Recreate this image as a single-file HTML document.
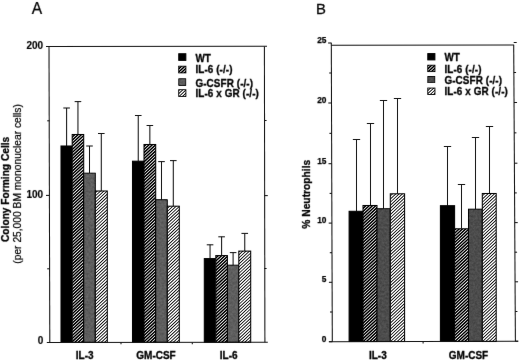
<!DOCTYPE html>
<html><head><meta charset="utf-8"><title>Figure</title>
<style>
html,body{margin:0;padding:0;background:#fff;}
body{width:520px;height:360px;overflow:hidden;}
svg{display:block;font-family:"Liberation Sans",sans-serif;}
</style></head><body>
<svg width="520" height="360" viewBox="0 0 520 360">
<defs><filter id="noise" x="-10%" y="-2%" width="120%" height="104%" color-interpolation-filters="sRGB"><feTurbulence type="fractalNoise" baseFrequency="0.45" numOctaves="2" seed="7" result="t"/><feColorMatrix in="t" type="matrix" values="1 0 0 0 0 1 0 0 0 0 1 0 0 0 0 0 0 0 0 1" result="g"/><feComposite in="SourceGraphic" in2="g" operator="arithmetic" k1="0" k2="1" k3="0.16" k4="-0.08" result="m"/><feComposite in="m" in2="SourceGraphic" operator="in"/></filter><filter id="soft" x="0" y="0" width="520" height="360" filterUnits="userSpaceOnUse" color-interpolation-filters="sRGB"><feConvolveMatrix order="3" kernelMatrix="0.0052 0.0619 0.0052 0.0619 0.7314 0.0619 0.0052 0.0619 0.0052" edgeMode="duplicate" preserveAlpha="false"/></filter><filter id="softl" x="0" y="0" width="520" height="360" filterUnits="userSpaceOnUse" color-interpolation-filters="sRGB"><feConvolveMatrix order="3" kernelMatrix="0.0009 0.0278 0.0009 0.0278 0.8855 0.0278 0.0009 0.0278 0.0009" edgeMode="duplicate" preserveAlpha="true"/></filter></defs>
<g filter="url(#softl)">
<rect width="520" height="360" fill="#fff"/>
<g stroke="#111" stroke-width="1.05" fill="none"><line x1="66.60" y1="108.00" x2="66.60" y2="146.00"/><line x1="63.30" y1="108.00" x2="69.90" y2="108.00"/><line x1="77.95" y1="101.60" x2="77.95" y2="134.50"/><line x1="74.65" y1="101.60" x2="81.25" y2="101.60"/><line x1="89.50" y1="146.00" x2="89.50" y2="173.00"/><line x1="86.20" y1="146.00" x2="92.80" y2="146.00"/><line x1="101.30" y1="133.50" x2="101.30" y2="191.00"/><line x1="98.00" y1="133.50" x2="104.60" y2="133.50"/><line x1="138.25" y1="115.50" x2="138.25" y2="161.20"/><line x1="134.95" y1="115.50" x2="141.55" y2="115.50"/><line x1="149.85" y1="125.50" x2="149.85" y2="144.50"/><line x1="146.55" y1="125.50" x2="153.15" y2="125.50"/><line x1="161.50" y1="161.60" x2="161.50" y2="199.70"/><line x1="158.20" y1="161.60" x2="164.80" y2="161.60"/><line x1="173.30" y1="160.60" x2="173.30" y2="206.20"/><line x1="170.00" y1="160.60" x2="176.60" y2="160.60"/><line x1="210.05" y1="244.80" x2="210.05" y2="258.60"/><line x1="206.75" y1="244.80" x2="213.35" y2="244.80"/><line x1="221.60" y1="236.80" x2="221.60" y2="255.60"/><line x1="218.30" y1="236.80" x2="224.90" y2="236.80"/><line x1="233.10" y1="252.60" x2="233.10" y2="265.00"/><line x1="229.80" y1="252.60" x2="236.40" y2="252.60"/><line x1="244.75" y1="233.40" x2="244.75" y2="251.10"/><line x1="241.45" y1="233.40" x2="248.05" y2="233.40"/><line x1="356.50" y1="139.50" x2="356.50" y2="211.30"/><line x1="352.85" y1="139.50" x2="360.15" y2="139.50"/><line x1="370.50" y1="123.50" x2="370.50" y2="205.50"/><line x1="366.85" y1="123.50" x2="374.15" y2="123.50"/><line x1="383.50" y1="100.50" x2="383.50" y2="208.70"/><line x1="379.85" y1="100.50" x2="387.15" y2="100.50"/><line x1="397.50" y1="98.50" x2="397.50" y2="193.80"/><line x1="393.85" y1="98.50" x2="401.15" y2="98.50"/><line x1="447.50" y1="146.50" x2="447.50" y2="205.70"/><line x1="443.85" y1="146.50" x2="451.15" y2="146.50"/><line x1="461.50" y1="184.50" x2="461.50" y2="228.80"/><line x1="457.85" y1="184.50" x2="465.15" y2="184.50"/><line x1="475.50" y1="137.50" x2="475.50" y2="209.00"/><line x1="471.85" y1="137.50" x2="479.15" y2="137.50"/><line x1="489.50" y1="126.50" x2="489.50" y2="193.50"/><line x1="485.85" y1="126.50" x2="493.15" y2="126.50"/></g>
<rect x="61.00" y="146.00" width="11.20" height="196.30" fill="#000" stroke="#000" stroke-width="1.05"/><rect x="72.20" y="134.50" width="11.50" height="207.80" fill="#fff" stroke="#000" stroke-width="1.05"/><rect x="83.70" y="173.00" width="11.60" height="169.30" fill="#5e5e5e" stroke="#000" stroke-width="1.05" filter="url(#noise)"/><rect x="95.30" y="191.00" width="12.00" height="151.30" fill="#fff" stroke="#000" stroke-width="1.05"/><rect x="132.50" y="161.20" width="11.50" height="181.10" fill="#000" stroke="#000" stroke-width="1.05"/><rect x="144.00" y="144.50" width="11.70" height="197.80" fill="#fff" stroke="#000" stroke-width="1.05"/><rect x="155.70" y="199.70" width="11.60" height="142.60" fill="#5e5e5e" stroke="#000" stroke-width="1.05" filter="url(#noise)"/><rect x="167.30" y="206.20" width="12.00" height="136.10" fill="#fff" stroke="#000" stroke-width="1.05"/><rect x="204.30" y="258.60" width="11.50" height="83.70" fill="#000" stroke="#000" stroke-width="1.05"/><rect x="215.80" y="255.60" width="11.60" height="86.70" fill="#fff" stroke="#000" stroke-width="1.05"/><rect x="227.40" y="265.00" width="11.40" height="77.30" fill="#5e5e5e" stroke="#000" stroke-width="1.05" filter="url(#noise)"/><rect x="238.80" y="251.10" width="11.90" height="91.20" fill="#fff" stroke="#000" stroke-width="1.05"/><rect x="349.10" y="211.30" width="13.90" height="130.20" fill="#000" stroke="#000" stroke-width="1.05"/><rect x="363.00" y="205.50" width="14.00" height="136.00" fill="#fff" stroke="#000" stroke-width="1.05"/><rect x="377.00" y="208.70" width="13.30" height="132.80" fill="#4c4c4c" stroke="#000" stroke-width="1.05" filter="url(#noise)"/><rect x="390.30" y="193.80" width="14.30" height="147.70" fill="#fff" stroke="#000" stroke-width="1.05"/><rect x="440.40" y="205.70" width="14.20" height="135.80" fill="#000" stroke="#000" stroke-width="1.05"/><rect x="454.60" y="228.80" width="13.90" height="112.70" fill="#fff" stroke="#000" stroke-width="1.05"/><rect x="468.50" y="209.00" width="13.80" height="132.50" fill="#4c4c4c" stroke="#000" stroke-width="1.05" filter="url(#noise)"/><rect x="482.30" y="193.50" width="13.90" height="148.00" fill="#fff" stroke="#000" stroke-width="1.05"/>
<g stroke="#111" stroke-width="1.05" fill="none"><line x1="49.00" y1="46.50" x2="49.80" y2="342.50"/><line x1="46.00" y1="46.50" x2="267.00" y2="46.30"/><line x1="264.40" y1="46.40" x2="264.90" y2="342.30"/><line x1="46.80" y1="342.50" x2="267.80" y2="342.20"/><line x1="46.00" y1="195.40" x2="49.40" y2="195.40"/><line x1="264.30" y1="195.60" x2="267.80" y2="195.60"/><line x1="47.20" y1="120.80" x2="49.40" y2="120.80"/><line x1="264.30" y1="120.50" x2="266.60" y2="120.50"/><line x1="47.20" y1="268.80" x2="49.40" y2="268.80"/><line x1="264.30" y1="268.50" x2="266.60" y2="268.50"/><line x1="121.00" y1="342.40" x2="121.00" y2="344.30"/><line x1="192.30" y1="342.40" x2="192.30" y2="344.30"/><line x1="423.10" y1="341.50" x2="423.10" y2="343.60"/><line x1="331.30" y1="42.80" x2="332.30" y2="341.70"/><line x1="331.30" y1="45.30" x2="513.80" y2="45.00"/><line x1="513.70" y1="44.80" x2="515.40" y2="341.30"/><line x1="328.80" y1="341.70" x2="518.00" y2="341.20"/><line x1="329.10" y1="341.70" x2="332.30" y2="341.70"/><line x1="515.40" y1="341.20" x2="518.40" y2="341.20"/><line x1="330.00" y1="312.00" x2="332.20" y2="312.00"/><line x1="515.23" y1="311.50" x2="517.43" y2="311.50"/><line x1="328.90" y1="282.30" x2="332.10" y2="282.30"/><line x1="515.06" y1="281.80" x2="518.06" y2="281.80"/><line x1="329.80" y1="252.70" x2="332.00" y2="252.70"/><line x1="514.89" y1="252.20" x2="517.09" y2="252.20"/><line x1="328.70" y1="223.10" x2="331.90" y2="223.10"/><line x1="514.73" y1="222.60" x2="517.73" y2="222.60"/><line x1="329.60" y1="193.40" x2="331.80" y2="193.40"/><line x1="514.56" y1="192.90" x2="516.76" y2="192.90"/><line x1="328.50" y1="163.70" x2="331.70" y2="163.70"/><line x1="514.39" y1="163.20" x2="517.39" y2="163.20"/><line x1="329.40" y1="133.35" x2="331.60" y2="133.35"/><line x1="514.21" y1="132.85" x2="516.41" y2="132.85"/><line x1="328.30" y1="103.00" x2="331.50" y2="103.00"/><line x1="514.04" y1="102.50" x2="517.04" y2="102.50"/><line x1="329.20" y1="73.00" x2="331.40" y2="73.00"/><line x1="513.87" y1="72.50" x2="516.07" y2="72.50"/><line x1="328.10" y1="43.00" x2="331.30" y2="43.00"/><line x1="513.70" y1="42.50" x2="516.70" y2="42.50"/></g>
<rect x="178.70" y="53.70" width="7.20" height="6.70" fill="#000" stroke="#000" stroke-width="0.9"/><rect x="178.70" y="66.20" width="7.20" height="6.70" fill="#fff" stroke="#000" stroke-width="0.9"/><rect x="178.70" y="78.70" width="7.20" height="6.70" fill="#5e5e5e" stroke="#000" stroke-width="0.9" filter="url(#noise)"/><rect x="178.70" y="89.70" width="7.20" height="6.70" fill="#fff" stroke="#000" stroke-width="0.9"/><rect x="427.75" y="53.55" width="7.20" height="6.40" fill="#000" stroke="#000" stroke-width="0.9"/><rect x="427.75" y="65.20" width="7.20" height="6.40" fill="#fff" stroke="#000" stroke-width="0.9"/><rect x="427.75" y="76.45" width="7.20" height="6.40" fill="#4c4c4c" stroke="#000" stroke-width="0.9" filter="url(#noise)"/><rect x="427.75" y="88.05" width="7.20" height="6.40" fill="#fff" stroke="#000" stroke-width="0.9"/>
</g>
<g filter="url(#soft)">
<g fill="#000" stroke="#000" stroke-width="0.3"><text transform="translate(31.8,14) scale(0.94,1)" font-size="16.6" stroke-width="0.25">A</text><text transform="translate(316.1,13.8) scale(0.96,1)" font-size="15.5" stroke-width="0.25">B</text><text x="43.2" y="48.8" font-size="10" font-weight="bold" stroke-width="0.15" text-anchor="end">200</text><text x="43.2" y="197.5" font-size="10" font-weight="bold" stroke-width="0.15" text-anchor="end">100</text><text x="43.2" y="344.4" font-size="10" font-weight="bold" stroke-width="0.15" text-anchor="end">0</text><text x="326.4" y="341.60" font-size="8.3" font-weight="bold" stroke-width="0.25" text-anchor="end">0</text><text x="326.4" y="282.20" font-size="8.3" font-weight="bold" stroke-width="0.25" text-anchor="end">5</text><text x="326.4" y="223.00" font-size="8.3" font-weight="bold" stroke-width="0.25" text-anchor="end">10</text><text x="326.4" y="163.60" font-size="8.3" font-weight="bold" stroke-width="0.25" text-anchor="end">15</text><text x="326.4" y="102.90" font-size="8.3" font-weight="bold" stroke-width="0.25" text-anchor="end">20</text><text x="326.4" y="42.90" font-size="8.3" font-weight="bold" stroke-width="0.25" text-anchor="end">25</text><text transform="translate(84.7,358.85) scale(1,1.05)" font-size="10" font-weight="bold" text-anchor="middle">IL-3</text><text transform="translate(156,358.85) scale(1,1.05)" font-size="10" font-weight="bold" text-anchor="middle">GM-CSF</text><text transform="translate(228.7,358.85) scale(1,1.05)" font-size="10" font-weight="bold" text-anchor="middle">IL-6</text><text transform="translate(377.8,358.85) scale(1,1.05)" font-size="10" font-weight="bold" text-anchor="middle">IL-3</text><text transform="translate(468.5,358.85) scale(1,1.05)" font-size="10" font-weight="bold" text-anchor="middle">GM-CSF</text><text transform="translate(8.8,242) rotate(-90)" font-size="10.2" font-weight="bold">Colony Forming Cells</text><text transform="translate(21.4,263.7) rotate(-90)" font-size="10.25" stroke-width="0.2">(per 25,000 BM mononuclear cells)</text><text transform="translate(309.8,228.7) rotate(-90)" font-size="10.25" font-weight="bold">% Neutrophils</text><text transform="translate(195.4,61.65) scale(1,1.13)" font-size="9.9" letter-spacing="0.1" font-weight="bold">WT</text><text transform="translate(195.4,73.45) scale(1,1.13)" font-size="9.9" letter-spacing="0.1" font-weight="bold">IL-6 (-/-)</text><text transform="translate(195.4,86.65) scale(1,1.13)" font-size="9.9" letter-spacing="0.1" font-weight="bold">G-CSFR (-/-)</text><text transform="translate(195.4,97.45) scale(1,1.13)" font-size="9.9" letter-spacing="0.1" font-weight="bold">IL-6 x GR (-/-)</text><text transform="translate(444.4,61.15) scale(1,1.13)" font-size="9.9" letter-spacing="0.1" font-weight="bold">WT</text><text transform="translate(444.4,72.65) scale(1,1.13)" font-size="9.9" letter-spacing="0.1" font-weight="bold">IL-6 (-/-)</text><text transform="translate(444.4,84.25) scale(1,1.13)" font-size="9.9" letter-spacing="0.1" font-weight="bold">G-CSFR (-/-)</text><text transform="translate(444.4,95.45) scale(1,1.13)" font-size="9.9" letter-spacing="0.1" font-weight="bold">IL-6 x GR (-/-)</text></g>
</g>
<g fill="#000" stroke="none">
<clipPath id="c1"><rect x="72.20" y="134.50" width="11.50" height="207.80"/></clipPath><path clip-path="url(#c1)" d="M71.70 135.50L84.20 123.76V121.70L71.70 133.44ZM71.70 138.60L84.20 126.86V124.80L71.70 136.54ZM71.70 141.70L84.20 129.96V127.90L71.70 139.64ZM71.70 144.80L84.20 133.06V131.00L71.70 142.74ZM71.70 147.90L84.20 136.16V134.10L71.70 145.84ZM71.70 151.00L84.20 139.26V137.20L71.70 148.94ZM71.70 154.10L84.20 142.36V140.30L71.70 152.04ZM71.70 157.20L84.20 145.46V143.40L71.70 155.14ZM71.70 160.30L84.20 148.56V146.50L71.70 158.24ZM71.70 163.40L84.20 151.66V149.60L71.70 161.34ZM71.70 166.50L84.20 154.76V152.70L71.70 164.44ZM71.70 169.60L84.20 157.86V155.80L71.70 167.54ZM71.70 172.70L84.20 160.96V158.90L71.70 170.64ZM71.70 175.80L84.20 164.06V162.00L71.70 173.74ZM71.70 178.90L84.20 167.16V165.10L71.70 176.84ZM71.70 182.00L84.20 170.26V168.20L71.70 179.94ZM71.70 185.10L84.20 173.36V171.30L71.70 183.04ZM71.70 188.20L84.20 176.46V174.40L71.70 186.14ZM71.70 191.30L84.20 179.56V177.50L71.70 189.24ZM71.70 194.40L84.20 182.66V180.60L71.70 192.34ZM71.70 197.50L84.20 185.76V183.70L71.70 195.44ZM71.70 200.60L84.20 188.86V186.80L71.70 198.54ZM71.70 203.70L84.20 191.96V189.90L71.70 201.64ZM71.70 206.80L84.20 195.06V193.00L71.70 204.74ZM71.70 209.90L84.20 198.16V196.10L71.70 207.84ZM71.70 213.00L84.20 201.26V199.20L71.70 210.94ZM71.70 216.10L84.20 204.36V202.30L71.70 214.04ZM71.70 219.20L84.20 207.46V205.40L71.70 217.14ZM71.70 222.30L84.20 210.56V208.50L71.70 220.24ZM71.70 225.40L84.20 213.66V211.60L71.70 223.34ZM71.70 228.50L84.20 216.76V214.70L71.70 226.44ZM71.70 231.60L84.20 219.86V217.80L71.70 229.54ZM71.70 234.70L84.20 222.96V220.90L71.70 232.64ZM71.70 237.80L84.20 226.06V224.00L71.70 235.74ZM71.70 240.90L84.20 229.16V227.10L71.70 238.84ZM71.70 244.00L84.20 232.26V230.20L71.70 241.94ZM71.70 247.10L84.20 235.36V233.30L71.70 245.04ZM71.70 250.20L84.20 238.46V236.40L71.70 248.14ZM71.70 253.30L84.20 241.56V239.50L71.70 251.24ZM71.70 256.40L84.20 244.66V242.60L71.70 254.34ZM71.70 259.50L84.20 247.76V245.70L71.70 257.44ZM71.70 262.60L84.20 250.86V248.80L71.70 260.54ZM71.70 265.70L84.20 253.96V251.90L71.70 263.64ZM71.70 268.80L84.20 257.06V255.00L71.70 266.74ZM71.70 271.90L84.20 260.16V258.10L71.70 269.84ZM71.70 275.00L84.20 263.26V261.20L71.70 272.94ZM71.70 278.10L84.20 266.36V264.30L71.70 276.04ZM71.70 281.20L84.20 269.46V267.40L71.70 279.14ZM71.70 284.30L84.20 272.56V270.50L71.70 282.24ZM71.70 287.40L84.20 275.66V273.60L71.70 285.34ZM71.70 290.50L84.20 278.76V276.70L71.70 288.44ZM71.70 293.60L84.20 281.86V279.80L71.70 291.54ZM71.70 296.70L84.20 284.96V282.90L71.70 294.64ZM71.70 299.80L84.20 288.06V286.00L71.70 297.74ZM71.70 302.90L84.20 291.16V289.10L71.70 300.84ZM71.70 306.00L84.20 294.26V292.20L71.70 303.94ZM71.70 309.10L84.20 297.36V295.30L71.70 307.04ZM71.70 312.20L84.20 300.46V298.40L71.70 310.14ZM71.70 315.30L84.20 303.56V301.50L71.70 313.24ZM71.70 318.40L84.20 306.66V304.60L71.70 316.34ZM71.70 321.50L84.20 309.76V307.70L71.70 319.44ZM71.70 324.60L84.20 312.86V310.80L71.70 322.54ZM71.70 327.70L84.20 315.96V313.90L71.70 325.64ZM71.70 330.80L84.20 319.06V317.00L71.70 328.74ZM71.70 333.90L84.20 322.16V320.10L71.70 331.84ZM71.70 337.00L84.20 325.26V323.20L71.70 334.94ZM71.70 340.10L84.20 328.36V326.30L71.70 338.04ZM71.70 343.20L84.20 331.46V329.40L71.70 341.14ZM71.70 346.30L84.20 334.56V332.50L71.70 344.24ZM71.70 349.40L84.20 337.66V335.60L71.70 347.34ZM71.70 352.50L84.20 340.76V338.70L71.70 350.44ZM71.70 355.60L84.20 343.86V341.80L71.70 353.54Z"/>
<clipPath id="c2"><rect x="95.30" y="191.00" width="12.00" height="151.30"/></clipPath><path clip-path="url(#c2)" d="M94.80 190.85L107.80 178.64V177.47L94.80 189.69ZM94.80 193.95L107.80 181.74V180.57L94.80 192.79ZM94.80 197.05L107.80 184.84V183.67L94.80 195.89ZM94.80 200.15L107.80 187.94V186.77L94.80 198.99ZM94.80 203.25L107.80 191.04V189.87L94.80 202.09ZM94.80 206.35L107.80 194.14V192.97L94.80 205.19ZM94.80 209.45L107.80 197.24V196.07L94.80 208.29ZM94.80 212.55L107.80 200.34V199.17L94.80 211.39ZM94.80 215.65L107.80 203.44V202.27L94.80 214.49ZM94.80 218.75L107.80 206.54V205.37L94.80 217.59ZM94.80 221.85L107.80 209.64V208.47L94.80 220.69ZM94.80 224.95L107.80 212.74V211.57L94.80 223.79ZM94.80 228.05L107.80 215.84V214.67L94.80 226.89ZM94.80 231.15L107.80 218.94V217.77L94.80 229.99ZM94.80 234.25L107.80 222.04V220.87L94.80 233.09ZM94.80 237.35L107.80 225.14V223.97L94.80 236.19ZM94.80 240.45L107.80 228.24V227.07L94.80 239.29ZM94.80 243.55L107.80 231.34V230.17L94.80 242.39ZM94.80 246.65L107.80 234.44V233.27L94.80 245.49ZM94.80 249.75L107.80 237.54V236.37L94.80 248.59ZM94.80 252.85L107.80 240.64V239.47L94.80 251.69ZM94.80 255.95L107.80 243.74V242.57L94.80 254.79ZM94.80 259.05L107.80 246.84V245.67L94.80 257.89ZM94.80 262.15L107.80 249.94V248.77L94.80 260.99ZM94.80 265.25L107.80 253.04V251.87L94.80 264.09ZM94.80 268.35L107.80 256.14V254.97L94.80 267.19ZM94.80 271.45L107.80 259.24V258.07L94.80 270.29ZM94.80 274.55L107.80 262.34V261.17L94.80 273.39ZM94.80 277.65L107.80 265.44V264.27L94.80 276.49ZM94.80 280.75L107.80 268.54V267.37L94.80 279.59ZM94.80 283.85L107.80 271.64V270.47L94.80 282.69ZM94.80 286.95L107.80 274.74V273.57L94.80 285.79ZM94.80 290.05L107.80 277.84V276.67L94.80 288.89ZM94.80 293.15L107.80 280.94V279.77L94.80 291.99ZM94.80 296.25L107.80 284.04V282.87L94.80 295.09ZM94.80 299.35L107.80 287.14V285.97L94.80 298.19ZM94.80 302.45L107.80 290.24V289.07L94.80 301.29ZM94.80 305.55L107.80 293.34V292.17L94.80 304.39ZM94.80 308.65L107.80 296.44V295.27L94.80 307.49ZM94.80 311.75L107.80 299.54V298.37L94.80 310.59ZM94.80 314.85L107.80 302.64V301.47L94.80 313.69ZM94.80 317.95L107.80 305.74V304.57L94.80 316.79ZM94.80 321.05L107.80 308.84V307.67L94.80 319.89ZM94.80 324.15L107.80 311.94V310.77L94.80 322.99ZM94.80 327.25L107.80 315.04V313.87L94.80 326.09ZM94.80 330.35L107.80 318.14V316.97L94.80 329.19ZM94.80 333.45L107.80 321.24V320.07L94.80 332.29ZM94.80 336.55L107.80 324.34V323.17L94.80 335.39ZM94.80 339.65L107.80 327.44V326.27L94.80 338.49ZM94.80 342.75L107.80 330.54V329.37L94.80 341.59ZM94.80 345.85L107.80 333.64V332.47L94.80 344.69ZM94.80 348.95L107.80 336.74V335.57L94.80 347.79ZM94.80 352.05L107.80 339.84V338.67L94.80 350.89ZM94.80 355.15L107.80 342.94V341.77L94.80 353.99Z"/>
<clipPath id="c3"><rect x="144.00" y="144.50" width="11.70" height="197.80"/></clipPath><path clip-path="url(#c3)" d="M143.50 144.80L156.20 132.87V130.81L143.50 142.74ZM143.50 147.90L156.20 135.97V133.91L143.50 145.84ZM143.50 151.00L156.20 139.07V137.01L143.50 148.94ZM143.50 154.10L156.20 142.17V140.11L143.50 152.04ZM143.50 157.20L156.20 145.27V143.21L143.50 155.14ZM143.50 160.30L156.20 148.37V146.31L143.50 158.24ZM143.50 163.40L156.20 151.47V149.41L143.50 161.34ZM143.50 166.50L156.20 154.57V152.51L143.50 164.44ZM143.50 169.60L156.20 157.67V155.61L143.50 167.54ZM143.50 172.70L156.20 160.77V158.71L143.50 170.64ZM143.50 175.80L156.20 163.87V161.81L143.50 173.74ZM143.50 178.90L156.20 166.97V164.91L143.50 176.84ZM143.50 182.00L156.20 170.07V168.01L143.50 179.94ZM143.50 185.10L156.20 173.17V171.11L143.50 183.04ZM143.50 188.20L156.20 176.27V174.21L143.50 186.14ZM143.50 191.30L156.20 179.37V177.31L143.50 189.24ZM143.50 194.40L156.20 182.47V180.41L143.50 192.34ZM143.50 197.50L156.20 185.57V183.51L143.50 195.44ZM143.50 200.60L156.20 188.67V186.61L143.50 198.54ZM143.50 203.70L156.20 191.77V189.71L143.50 201.64ZM143.50 206.80L156.20 194.87V192.81L143.50 204.74ZM143.50 209.90L156.20 197.97V195.91L143.50 207.84ZM143.50 213.00L156.20 201.07V199.01L143.50 210.94ZM143.50 216.10L156.20 204.17V202.11L143.50 214.04ZM143.50 219.20L156.20 207.27V205.21L143.50 217.14ZM143.50 222.30L156.20 210.37V208.31L143.50 220.24ZM143.50 225.40L156.20 213.47V211.41L143.50 223.34ZM143.50 228.50L156.20 216.57V214.51L143.50 226.44ZM143.50 231.60L156.20 219.67V217.61L143.50 229.54ZM143.50 234.70L156.20 222.77V220.71L143.50 232.64ZM143.50 237.80L156.20 225.87V223.81L143.50 235.74ZM143.50 240.90L156.20 228.97V226.91L143.50 238.84ZM143.50 244.00L156.20 232.07V230.01L143.50 241.94ZM143.50 247.10L156.20 235.17V233.11L143.50 245.04ZM143.50 250.20L156.20 238.27V236.21L143.50 248.14ZM143.50 253.30L156.20 241.37V239.31L143.50 251.24ZM143.50 256.40L156.20 244.47V242.41L143.50 254.34ZM143.50 259.50L156.20 247.57V245.51L143.50 257.44ZM143.50 262.60L156.20 250.67V248.61L143.50 260.54ZM143.50 265.70L156.20 253.77V251.71L143.50 263.64ZM143.50 268.80L156.20 256.87V254.81L143.50 266.74ZM143.50 271.90L156.20 259.97V257.91L143.50 269.84ZM143.50 275.00L156.20 263.07V261.01L143.50 272.94ZM143.50 278.10L156.20 266.17V264.11L143.50 276.04ZM143.50 281.20L156.20 269.27V267.21L143.50 279.14ZM143.50 284.30L156.20 272.37V270.31L143.50 282.24ZM143.50 287.40L156.20 275.47V273.41L143.50 285.34ZM143.50 290.50L156.20 278.57V276.51L143.50 288.44ZM143.50 293.60L156.20 281.67V279.61L143.50 291.54ZM143.50 296.70L156.20 284.77V282.71L143.50 294.64ZM143.50 299.80L156.20 287.87V285.81L143.50 297.74ZM143.50 302.90L156.20 290.97V288.91L143.50 300.84ZM143.50 306.00L156.20 294.07V292.01L143.50 303.94ZM143.50 309.10L156.20 297.17V295.11L143.50 307.04ZM143.50 312.20L156.20 300.27V298.21L143.50 310.14ZM143.50 315.30L156.20 303.37V301.31L143.50 313.24ZM143.50 318.40L156.20 306.47V304.41L143.50 316.34ZM143.50 321.50L156.20 309.57V307.51L143.50 319.44ZM143.50 324.60L156.20 312.67V310.61L143.50 322.54ZM143.50 327.70L156.20 315.77V313.71L143.50 325.64ZM143.50 330.80L156.20 318.87V316.81L143.50 328.74ZM143.50 333.90L156.20 321.97V319.91L143.50 331.84ZM143.50 337.00L156.20 325.07V323.01L143.50 334.94ZM143.50 340.10L156.20 328.17V326.11L143.50 338.04ZM143.50 343.20L156.20 331.27V329.21L143.50 341.14ZM143.50 346.30L156.20 334.37V332.31L143.50 344.24ZM143.50 349.40L156.20 337.47V335.41L143.50 347.34ZM143.50 352.50L156.20 340.57V338.51L143.50 350.44ZM143.50 355.60L156.20 343.67V341.61L143.50 353.54Z"/>
<clipPath id="c4"><rect x="167.30" y="206.20" width="12.00" height="136.10"/></clipPath><path clip-path="url(#c4)" d="M166.80 206.35L179.80 194.14V192.97L166.80 205.19ZM166.80 209.45L179.80 197.24V196.07L166.80 208.29ZM166.80 212.55L179.80 200.34V199.17L166.80 211.39ZM166.80 215.65L179.80 203.44V202.27L166.80 214.49ZM166.80 218.75L179.80 206.54V205.37L166.80 217.59ZM166.80 221.85L179.80 209.64V208.47L166.80 220.69ZM166.80 224.95L179.80 212.74V211.57L166.80 223.79ZM166.80 228.05L179.80 215.84V214.67L166.80 226.89ZM166.80 231.15L179.80 218.94V217.77L166.80 229.99ZM166.80 234.25L179.80 222.04V220.87L166.80 233.09ZM166.80 237.35L179.80 225.14V223.97L166.80 236.19ZM166.80 240.45L179.80 228.24V227.07L166.80 239.29ZM166.80 243.55L179.80 231.34V230.17L166.80 242.39ZM166.80 246.65L179.80 234.44V233.27L166.80 245.49ZM166.80 249.75L179.80 237.54V236.37L166.80 248.59ZM166.80 252.85L179.80 240.64V239.47L166.80 251.69ZM166.80 255.95L179.80 243.74V242.57L166.80 254.79ZM166.80 259.05L179.80 246.84V245.67L166.80 257.89ZM166.80 262.15L179.80 249.94V248.77L166.80 260.99ZM166.80 265.25L179.80 253.04V251.87L166.80 264.09ZM166.80 268.35L179.80 256.14V254.97L166.80 267.19ZM166.80 271.45L179.80 259.24V258.07L166.80 270.29ZM166.80 274.55L179.80 262.34V261.17L166.80 273.39ZM166.80 277.65L179.80 265.44V264.27L166.80 276.49ZM166.80 280.75L179.80 268.54V267.37L166.80 279.59ZM166.80 283.85L179.80 271.64V270.47L166.80 282.69ZM166.80 286.95L179.80 274.74V273.57L166.80 285.79ZM166.80 290.05L179.80 277.84V276.67L166.80 288.89ZM166.80 293.15L179.80 280.94V279.77L166.80 291.99ZM166.80 296.25L179.80 284.04V282.87L166.80 295.09ZM166.80 299.35L179.80 287.14V285.97L166.80 298.19ZM166.80 302.45L179.80 290.24V289.07L166.80 301.29ZM166.80 305.55L179.80 293.34V292.17L166.80 304.39ZM166.80 308.65L179.80 296.44V295.27L166.80 307.49ZM166.80 311.75L179.80 299.54V298.37L166.80 310.59ZM166.80 314.85L179.80 302.64V301.47L166.80 313.69ZM166.80 317.95L179.80 305.74V304.57L166.80 316.79ZM166.80 321.05L179.80 308.84V307.67L166.80 319.89ZM166.80 324.15L179.80 311.94V310.77L166.80 322.99ZM166.80 327.25L179.80 315.04V313.87L166.80 326.09ZM166.80 330.35L179.80 318.14V316.97L166.80 329.19ZM166.80 333.45L179.80 321.24V320.07L166.80 332.29ZM166.80 336.55L179.80 324.34V323.17L166.80 335.39ZM166.80 339.65L179.80 327.44V326.27L166.80 338.49ZM166.80 342.75L179.80 330.54V329.37L166.80 341.59ZM166.80 345.85L179.80 333.64V332.47L166.80 344.69ZM166.80 348.95L179.80 336.74V335.57L166.80 347.79ZM166.80 352.05L179.80 339.84V338.67L166.80 350.89ZM166.80 355.15L179.80 342.94V341.77L166.80 353.99Z"/>
<clipPath id="c5"><rect x="215.80" y="255.60" width="11.60" height="86.70"/></clipPath><path clip-path="url(#c5)" d="M215.30 256.40L227.90 244.56V242.50L215.30 254.34ZM215.30 259.50L227.90 247.66V245.60L215.30 257.44ZM215.30 262.60L227.90 250.76V248.70L215.30 260.54ZM215.30 265.70L227.90 253.86V251.80L215.30 263.64ZM215.30 268.80L227.90 256.96V254.90L215.30 266.74ZM215.30 271.90L227.90 260.06V258.00L215.30 269.84ZM215.30 275.00L227.90 263.16V261.10L215.30 272.94ZM215.30 278.10L227.90 266.26V264.20L215.30 276.04ZM215.30 281.20L227.90 269.36V267.30L215.30 279.14ZM215.30 284.30L227.90 272.46V270.40L215.30 282.24ZM215.30 287.40L227.90 275.56V273.50L215.30 285.34ZM215.30 290.50L227.90 278.66V276.60L215.30 288.44ZM215.30 293.60L227.90 281.76V279.70L215.30 291.54ZM215.30 296.70L227.90 284.86V282.80L215.30 294.64ZM215.30 299.80L227.90 287.96V285.90L215.30 297.74ZM215.30 302.90L227.90 291.06V289.00L215.30 300.84ZM215.30 306.00L227.90 294.16V292.10L215.30 303.94ZM215.30 309.10L227.90 297.26V295.20L215.30 307.04ZM215.30 312.20L227.90 300.36V298.30L215.30 310.14ZM215.30 315.30L227.90 303.46V301.40L215.30 313.24ZM215.30 318.40L227.90 306.56V304.50L215.30 316.34ZM215.30 321.50L227.90 309.66V307.60L215.30 319.44ZM215.30 324.60L227.90 312.76V310.70L215.30 322.54ZM215.30 327.70L227.90 315.86V313.80L215.30 325.64ZM215.30 330.80L227.90 318.96V316.90L215.30 328.74ZM215.30 333.90L227.90 322.06V320.00L215.30 331.84ZM215.30 337.00L227.90 325.16V323.10L215.30 334.94ZM215.30 340.10L227.90 328.26V326.20L215.30 338.04ZM215.30 343.20L227.90 331.36V329.30L215.30 341.14ZM215.30 346.30L227.90 334.46V332.40L215.30 344.24ZM215.30 349.40L227.90 337.56V335.50L215.30 347.34ZM215.30 352.50L227.90 340.66V338.60L215.30 350.44ZM215.30 355.60L227.90 343.76V341.70L215.30 353.54Z"/>
<clipPath id="c6"><rect x="238.80" y="251.10" width="11.90" height="91.20"/></clipPath><path clip-path="url(#c6)" d="M238.30 249.75L251.20 237.63V236.47L238.30 248.59ZM238.30 252.85L251.20 240.73V239.57L238.30 251.69ZM238.30 255.95L251.20 243.83V242.67L238.30 254.79ZM238.30 259.05L251.20 246.93V245.77L238.30 257.89ZM238.30 262.15L251.20 250.03V248.87L238.30 260.99ZM238.30 265.25L251.20 253.13V251.97L238.30 264.09ZM238.30 268.35L251.20 256.23V255.07L238.30 267.19ZM238.30 271.45L251.20 259.33V258.17L238.30 270.29ZM238.30 274.55L251.20 262.43V261.27L238.30 273.39ZM238.30 277.65L251.20 265.53V264.37L238.30 276.49ZM238.30 280.75L251.20 268.63V267.47L238.30 279.59ZM238.30 283.85L251.20 271.73V270.57L238.30 282.69ZM238.30 286.95L251.20 274.83V273.67L238.30 285.79ZM238.30 290.05L251.20 277.93V276.77L238.30 288.89ZM238.30 293.15L251.20 281.03V279.87L238.30 291.99ZM238.30 296.25L251.20 284.13V282.97L238.30 295.09ZM238.30 299.35L251.20 287.23V286.07L238.30 298.19ZM238.30 302.45L251.20 290.33V289.17L238.30 301.29ZM238.30 305.55L251.20 293.43V292.27L238.30 304.39ZM238.30 308.65L251.20 296.53V295.37L238.30 307.49ZM238.30 311.75L251.20 299.63V298.47L238.30 310.59ZM238.30 314.85L251.20 302.73V301.57L238.30 313.69ZM238.30 317.95L251.20 305.83V304.67L238.30 316.79ZM238.30 321.05L251.20 308.93V307.77L238.30 319.89ZM238.30 324.15L251.20 312.03V310.87L238.30 322.99ZM238.30 327.25L251.20 315.13V313.97L238.30 326.09ZM238.30 330.35L251.20 318.23V317.07L238.30 329.19ZM238.30 333.45L251.20 321.33V320.17L238.30 332.29ZM238.30 336.55L251.20 324.43V323.27L238.30 335.39ZM238.30 339.65L251.20 327.53V326.37L238.30 338.49ZM238.30 342.75L251.20 330.63V329.47L238.30 341.59ZM238.30 345.85L251.20 333.73V332.57L238.30 344.69ZM238.30 348.95L251.20 336.83V335.67L238.30 347.79ZM238.30 352.05L251.20 339.93V338.77L238.30 350.89ZM238.30 355.15L251.20 343.03V341.87L238.30 353.99Z"/>
<clipPath id="c7"><rect x="363.00" y="205.50" width="14.00" height="136.00"/></clipPath><path clip-path="url(#c7)" d="M362.50 206.80L377.50 192.71V190.65L362.50 204.74ZM362.50 209.90L377.50 195.81V193.75L362.50 207.84ZM362.50 213.00L377.50 198.91V196.85L362.50 210.94ZM362.50 216.10L377.50 202.01V199.95L362.50 214.04ZM362.50 219.20L377.50 205.11V203.05L362.50 217.14ZM362.50 222.30L377.50 208.21V206.15L362.50 220.24ZM362.50 225.40L377.50 211.31V209.25L362.50 223.34ZM362.50 228.50L377.50 214.41V212.35L362.50 226.44ZM362.50 231.60L377.50 217.51V215.45L362.50 229.54ZM362.50 234.70L377.50 220.61V218.55L362.50 232.64ZM362.50 237.80L377.50 223.71V221.65L362.50 235.74ZM362.50 240.90L377.50 226.81V224.75L362.50 238.84ZM362.50 244.00L377.50 229.91V227.85L362.50 241.94ZM362.50 247.10L377.50 233.01V230.95L362.50 245.04ZM362.50 250.20L377.50 236.11V234.05L362.50 248.14ZM362.50 253.30L377.50 239.21V237.15L362.50 251.24ZM362.50 256.40L377.50 242.31V240.25L362.50 254.34ZM362.50 259.50L377.50 245.41V243.35L362.50 257.44ZM362.50 262.60L377.50 248.51V246.45L362.50 260.54ZM362.50 265.70L377.50 251.61V249.55L362.50 263.64ZM362.50 268.80L377.50 254.71V252.65L362.50 266.74ZM362.50 271.90L377.50 257.81V255.75L362.50 269.84ZM362.50 275.00L377.50 260.91V258.85L362.50 272.94ZM362.50 278.10L377.50 264.01V261.95L362.50 276.04ZM362.50 281.20L377.50 267.11V265.05L362.50 279.14ZM362.50 284.30L377.50 270.21V268.15L362.50 282.24ZM362.50 287.40L377.50 273.31V271.25L362.50 285.34ZM362.50 290.50L377.50 276.41V274.35L362.50 288.44ZM362.50 293.60L377.50 279.51V277.45L362.50 291.54ZM362.50 296.70L377.50 282.61V280.55L362.50 294.64ZM362.50 299.80L377.50 285.71V283.65L362.50 297.74ZM362.50 302.90L377.50 288.81V286.75L362.50 300.84ZM362.50 306.00L377.50 291.91V289.85L362.50 303.94ZM362.50 309.10L377.50 295.01V292.95L362.50 307.04ZM362.50 312.20L377.50 298.11V296.05L362.50 310.14ZM362.50 315.30L377.50 301.21V299.15L362.50 313.24ZM362.50 318.40L377.50 304.31V302.25L362.50 316.34ZM362.50 321.50L377.50 307.41V305.35L362.50 319.44ZM362.50 324.60L377.50 310.51V308.45L362.50 322.54ZM362.50 327.70L377.50 313.61V311.55L362.50 325.64ZM362.50 330.80L377.50 316.71V314.65L362.50 328.74ZM362.50 333.90L377.50 319.81V317.75L362.50 331.84ZM362.50 337.00L377.50 322.91V320.85L362.50 334.94ZM362.50 340.10L377.50 326.01V323.95L362.50 338.04ZM362.50 343.20L377.50 329.11V327.05L362.50 341.14ZM362.50 346.30L377.50 332.21V330.15L362.50 344.24ZM362.50 349.40L377.50 335.31V333.25L362.50 347.34ZM362.50 352.50L377.50 338.41V336.35L362.50 350.44ZM362.50 355.60L377.50 341.51V339.45L362.50 353.54ZM362.50 358.70L377.50 344.61V342.55L362.50 356.64Z"/>
<clipPath id="c8"><rect x="390.30" y="193.80" width="14.30" height="147.70"/></clipPath><path clip-path="url(#c8)" d="M389.80 193.95L405.10 179.58V178.41L389.80 192.79ZM389.80 197.05L405.10 182.68V181.51L389.80 195.89ZM389.80 200.15L405.10 185.78V184.61L389.80 198.99ZM389.80 203.25L405.10 188.88V187.71L389.80 202.09ZM389.80 206.35L405.10 191.98V190.81L389.80 205.19ZM389.80 209.45L405.10 195.08V193.91L389.80 208.29ZM389.80 212.55L405.10 198.18V197.01L389.80 211.39ZM389.80 215.65L405.10 201.28V200.11L389.80 214.49ZM389.80 218.75L405.10 204.38V203.21L389.80 217.59ZM389.80 221.85L405.10 207.48V206.31L389.80 220.69ZM389.80 224.95L405.10 210.58V209.41L389.80 223.79ZM389.80 228.05L405.10 213.68V212.51L389.80 226.89ZM389.80 231.15L405.10 216.78V215.61L389.80 229.99ZM389.80 234.25L405.10 219.88V218.71L389.80 233.09ZM389.80 237.35L405.10 222.98V221.81L389.80 236.19ZM389.80 240.45L405.10 226.08V224.91L389.80 239.29ZM389.80 243.55L405.10 229.18V228.01L389.80 242.39ZM389.80 246.65L405.10 232.28V231.11L389.80 245.49ZM389.80 249.75L405.10 235.38V234.21L389.80 248.59ZM389.80 252.85L405.10 238.48V237.31L389.80 251.69ZM389.80 255.95L405.10 241.58V240.41L389.80 254.79ZM389.80 259.05L405.10 244.68V243.51L389.80 257.89ZM389.80 262.15L405.10 247.78V246.61L389.80 260.99ZM389.80 265.25L405.10 250.88V249.71L389.80 264.09ZM389.80 268.35L405.10 253.98V252.81L389.80 267.19ZM389.80 271.45L405.10 257.08V255.91L389.80 270.29ZM389.80 274.55L405.10 260.18V259.01L389.80 273.39ZM389.80 277.65L405.10 263.28V262.11L389.80 276.49ZM389.80 280.75L405.10 266.38V265.21L389.80 279.59ZM389.80 283.85L405.10 269.48V268.31L389.80 282.69ZM389.80 286.95L405.10 272.58V271.41L389.80 285.79ZM389.80 290.05L405.10 275.68V274.51L389.80 288.89ZM389.80 293.15L405.10 278.78V277.61L389.80 291.99ZM389.80 296.25L405.10 281.88V280.71L389.80 295.09ZM389.80 299.35L405.10 284.98V283.81L389.80 298.19ZM389.80 302.45L405.10 288.08V286.91L389.80 301.29ZM389.80 305.55L405.10 291.18V290.01L389.80 304.39ZM389.80 308.65L405.10 294.28V293.11L389.80 307.49ZM389.80 311.75L405.10 297.38V296.21L389.80 310.59ZM389.80 314.85L405.10 300.48V299.31L389.80 313.69ZM389.80 317.95L405.10 303.58V302.41L389.80 316.79ZM389.80 321.05L405.10 306.68V305.51L389.80 319.89ZM389.80 324.15L405.10 309.78V308.61L389.80 322.99ZM389.80 327.25L405.10 312.88V311.71L389.80 326.09ZM389.80 330.35L405.10 315.98V314.81L389.80 329.19ZM389.80 333.45L405.10 319.08V317.91L389.80 332.29ZM389.80 336.55L405.10 322.18V321.01L389.80 335.39ZM389.80 339.65L405.10 325.28V324.11L389.80 338.49ZM389.80 342.75L405.10 328.38V327.21L389.80 341.59ZM389.80 345.85L405.10 331.48V330.31L389.80 344.69ZM389.80 348.95L405.10 334.58V333.41L389.80 347.79ZM389.80 352.05L405.10 337.68V336.51L389.80 350.89ZM389.80 355.15L405.10 340.78V339.61L389.80 353.99ZM389.80 358.25L405.10 343.88V342.71L389.80 357.09Z"/>
<clipPath id="c9"><rect x="454.60" y="228.80" width="13.90" height="112.70"/></clipPath><path clip-path="url(#c9)" d="M454.10 228.50L469.00 214.50V212.44L454.10 226.44ZM454.10 231.60L469.00 217.60V215.54L454.10 229.54ZM454.10 234.70L469.00 220.70V218.64L454.10 232.64ZM454.10 237.80L469.00 223.80V221.74L454.10 235.74ZM454.10 240.90L469.00 226.90V224.84L454.10 238.84ZM454.10 244.00L469.00 230.00V227.94L454.10 241.94ZM454.10 247.10L469.00 233.10V231.04L454.10 245.04ZM454.10 250.20L469.00 236.20V234.14L454.10 248.14ZM454.10 253.30L469.00 239.30V237.24L454.10 251.24ZM454.10 256.40L469.00 242.40V240.34L454.10 254.34ZM454.10 259.50L469.00 245.50V243.44L454.10 257.44ZM454.10 262.60L469.00 248.60V246.54L454.10 260.54ZM454.10 265.70L469.00 251.70V249.64L454.10 263.64ZM454.10 268.80L469.00 254.80V252.74L454.10 266.74ZM454.10 271.90L469.00 257.90V255.84L454.10 269.84ZM454.10 275.00L469.00 261.00V258.94L454.10 272.94ZM454.10 278.10L469.00 264.10V262.04L454.10 276.04ZM454.10 281.20L469.00 267.20V265.14L454.10 279.14ZM454.10 284.30L469.00 270.30V268.24L454.10 282.24ZM454.10 287.40L469.00 273.40V271.34L454.10 285.34ZM454.10 290.50L469.00 276.50V274.44L454.10 288.44ZM454.10 293.60L469.00 279.60V277.54L454.10 291.54ZM454.10 296.70L469.00 282.70V280.64L454.10 294.64ZM454.10 299.80L469.00 285.80V283.74L454.10 297.74ZM454.10 302.90L469.00 288.90V286.84L454.10 300.84ZM454.10 306.00L469.00 292.00V289.94L454.10 303.94ZM454.10 309.10L469.00 295.10V293.04L454.10 307.04ZM454.10 312.20L469.00 298.20V296.14L454.10 310.14ZM454.10 315.30L469.00 301.30V299.24L454.10 313.24ZM454.10 318.40L469.00 304.40V302.34L454.10 316.34ZM454.10 321.50L469.00 307.50V305.44L454.10 319.44ZM454.10 324.60L469.00 310.60V308.54L454.10 322.54ZM454.10 327.70L469.00 313.70V311.64L454.10 325.64ZM454.10 330.80L469.00 316.80V314.74L454.10 328.74ZM454.10 333.90L469.00 319.90V317.84L454.10 331.84ZM454.10 337.00L469.00 323.00V320.94L454.10 334.94ZM454.10 340.10L469.00 326.10V324.04L454.10 338.04ZM454.10 343.20L469.00 329.20V327.14L454.10 341.14ZM454.10 346.30L469.00 332.30V330.24L454.10 344.24ZM454.10 349.40L469.00 335.40V333.34L454.10 347.34ZM454.10 352.50L469.00 338.50V336.44L454.10 350.44ZM454.10 355.60L469.00 341.60V339.54L454.10 353.54ZM454.10 358.70L469.00 344.70V342.64L454.10 356.64Z"/>
<clipPath id="c10"><rect x="482.30" y="193.50" width="13.90" height="148.00"/></clipPath><path clip-path="url(#c10)" d="M481.80 193.95L496.70 179.96V178.79L481.80 192.79ZM481.80 197.05L496.70 183.06V181.89L481.80 195.89ZM481.80 200.15L496.70 186.16V184.99L481.80 198.99ZM481.80 203.25L496.70 189.26V188.09L481.80 202.09ZM481.80 206.35L496.70 192.36V191.19L481.80 205.19ZM481.80 209.45L496.70 195.46V194.29L481.80 208.29ZM481.80 212.55L496.70 198.56V197.39L481.80 211.39ZM481.80 215.65L496.70 201.66V200.49L481.80 214.49ZM481.80 218.75L496.70 204.76V203.59L481.80 217.59ZM481.80 221.85L496.70 207.86V206.69L481.80 220.69ZM481.80 224.95L496.70 210.96V209.79L481.80 223.79ZM481.80 228.05L496.70 214.06V212.89L481.80 226.89ZM481.80 231.15L496.70 217.16V215.99L481.80 229.99ZM481.80 234.25L496.70 220.26V219.09L481.80 233.09ZM481.80 237.35L496.70 223.36V222.19L481.80 236.19ZM481.80 240.45L496.70 226.46V225.29L481.80 239.29ZM481.80 243.55L496.70 229.56V228.39L481.80 242.39ZM481.80 246.65L496.70 232.66V231.49L481.80 245.49ZM481.80 249.75L496.70 235.76V234.59L481.80 248.59ZM481.80 252.85L496.70 238.86V237.69L481.80 251.69ZM481.80 255.95L496.70 241.96V240.79L481.80 254.79ZM481.80 259.05L496.70 245.06V243.89L481.80 257.89ZM481.80 262.15L496.70 248.16V246.99L481.80 260.99ZM481.80 265.25L496.70 251.26V250.09L481.80 264.09ZM481.80 268.35L496.70 254.36V253.19L481.80 267.19ZM481.80 271.45L496.70 257.46V256.29L481.80 270.29ZM481.80 274.55L496.70 260.56V259.39L481.80 273.39ZM481.80 277.65L496.70 263.66V262.49L481.80 276.49ZM481.80 280.75L496.70 266.76V265.59L481.80 279.59ZM481.80 283.85L496.70 269.86V268.69L481.80 282.69ZM481.80 286.95L496.70 272.96V271.79L481.80 285.79ZM481.80 290.05L496.70 276.06V274.89L481.80 288.89ZM481.80 293.15L496.70 279.16V277.99L481.80 291.99ZM481.80 296.25L496.70 282.26V281.09L481.80 295.09ZM481.80 299.35L496.70 285.36V284.19L481.80 298.19ZM481.80 302.45L496.70 288.46V287.29L481.80 301.29ZM481.80 305.55L496.70 291.56V290.39L481.80 304.39ZM481.80 308.65L496.70 294.66V293.49L481.80 307.49ZM481.80 311.75L496.70 297.76V296.59L481.80 310.59ZM481.80 314.85L496.70 300.86V299.69L481.80 313.69ZM481.80 317.95L496.70 303.96V302.79L481.80 316.79ZM481.80 321.05L496.70 307.06V305.89L481.80 319.89ZM481.80 324.15L496.70 310.16V308.99L481.80 322.99ZM481.80 327.25L496.70 313.26V312.09L481.80 326.09ZM481.80 330.35L496.70 316.36V315.19L481.80 329.19ZM481.80 333.45L496.70 319.46V318.29L481.80 332.29ZM481.80 336.55L496.70 322.56V321.39L481.80 335.39ZM481.80 339.65L496.70 325.66V324.49L481.80 338.49ZM481.80 342.75L496.70 328.76V327.59L481.80 341.59ZM481.80 345.85L496.70 331.86V330.69L481.80 344.69ZM481.80 348.95L496.70 334.96V333.79L481.80 347.79ZM481.80 352.05L496.70 338.06V336.89L481.80 350.89ZM481.80 355.15L496.70 341.16V339.99L481.80 353.99ZM481.80 358.25L496.70 344.26V343.09L481.80 357.09Z"/>
<clipPath id="c11"><rect x="178.70" y="66.20" width="7.20" height="6.70"/></clipPath><path clip-path="url(#c11)" d="M178.20 67.30L186.40 59.60V57.54L178.20 65.24ZM178.20 70.40L186.40 62.70V60.64L178.20 68.34ZM178.20 73.50L186.40 65.80V63.74L178.20 71.44ZM178.20 76.60L186.40 68.90V66.84L178.20 74.54ZM178.20 79.70L186.40 72.00V69.94L178.20 77.64ZM178.20 82.80L186.40 75.10V73.04L178.20 80.74Z"/>
<clipPath id="c12"><rect x="178.70" y="89.70" width="7.20" height="6.70"/></clipPath><path clip-path="url(#c12)" d="M178.20 88.55L186.40 80.85V79.68L178.20 87.39ZM178.20 91.65L186.40 83.95V82.78L178.20 90.49ZM178.20 94.75L186.40 87.05V85.88L178.20 93.59ZM178.20 97.85L186.40 90.15V88.98L178.20 96.69ZM178.20 100.95L186.40 93.25V92.08L178.20 99.79ZM178.20 104.05L186.40 96.35V95.18L178.20 102.89ZM178.20 107.15L186.40 99.45V98.28L178.20 105.99Z"/>
<clipPath id="c13"><rect x="427.75" y="65.20" width="7.20" height="6.40"/></clipPath><path clip-path="url(#c13)" d="M427.25 67.30L435.45 59.60V57.54L427.25 65.24ZM427.25 70.40L435.45 62.70V60.64L427.25 68.34ZM427.25 73.50L435.45 65.80V63.74L427.25 71.44ZM427.25 76.60L435.45 68.90V66.84L427.25 74.54ZM427.25 79.70L435.45 72.00V69.94L427.25 77.64ZM427.25 82.80L435.45 75.10V73.04L427.25 80.74Z"/>
<clipPath id="c14"><rect x="427.75" y="88.05" width="7.20" height="6.40"/></clipPath><path clip-path="url(#c14)" d="M427.25 88.55L435.45 80.85V79.68L427.25 87.39ZM427.25 91.65L435.45 83.95V82.78L427.25 90.49ZM427.25 94.75L435.45 87.05V85.88L427.25 93.59ZM427.25 97.85L435.45 90.15V88.98L427.25 96.69ZM427.25 100.95L435.45 93.25V92.08L427.25 99.79ZM427.25 104.05L435.45 96.35V95.18L427.25 102.89Z"/>
</g>
</svg>
</body></html>
